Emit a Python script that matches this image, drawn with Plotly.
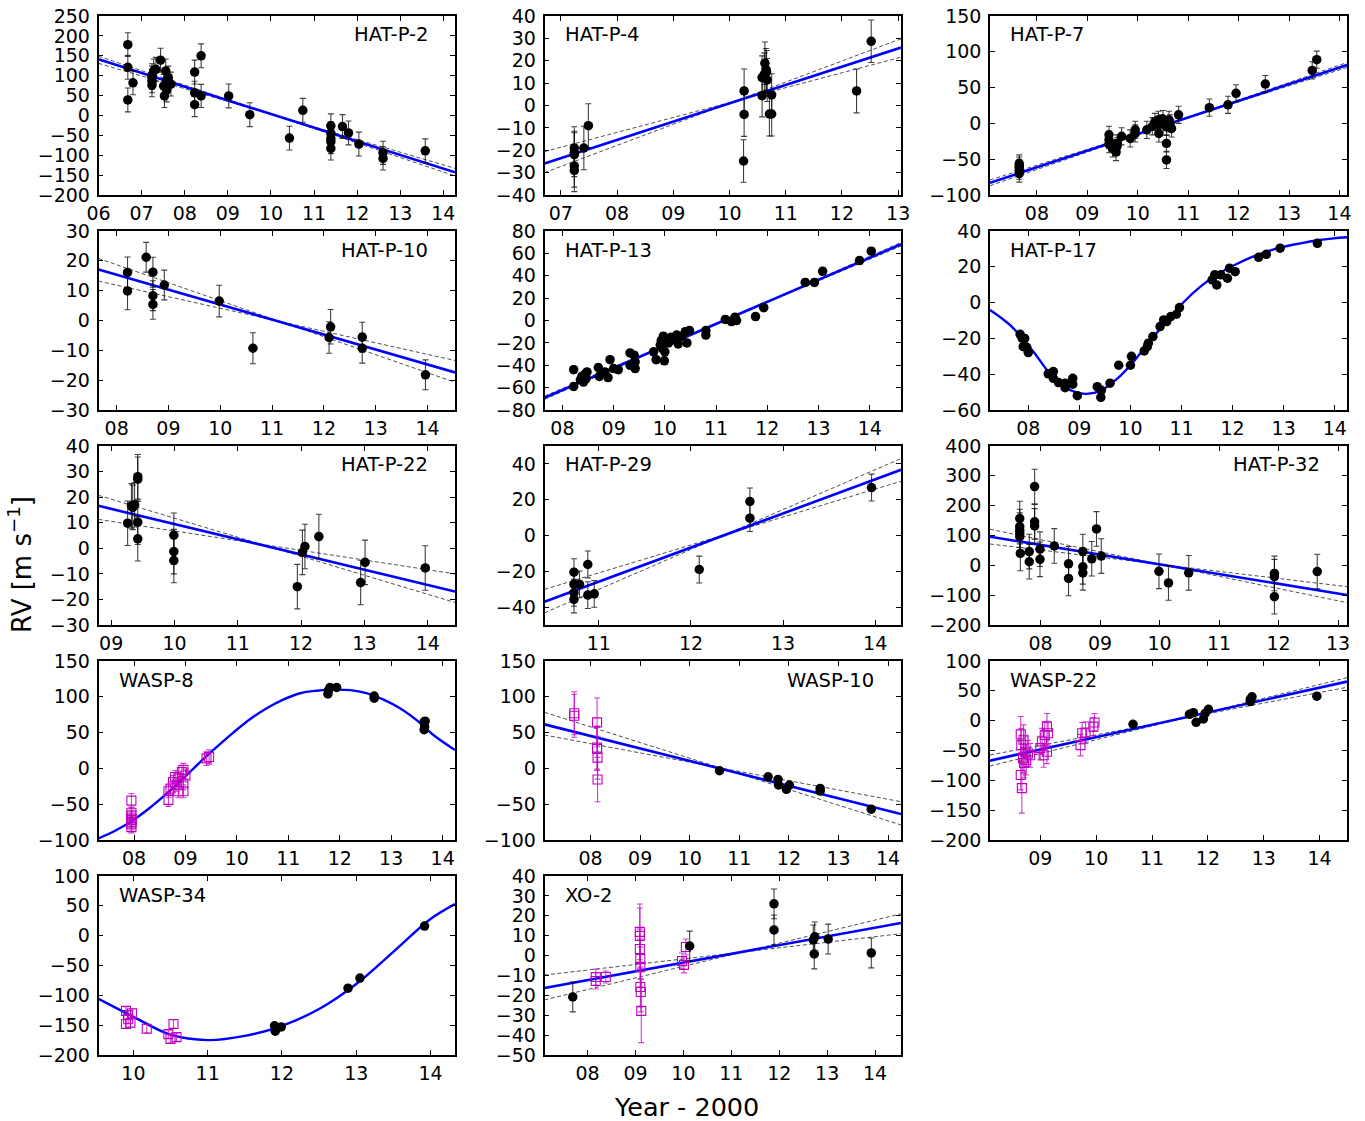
import plotly.graph_objects as go

# ---------------- data (years - 2000, RV in m/s) ----------------
# HAT-P-2
hp2_t = [6.68, 6.68, 6.68, 6.80, 7.24, 7.24, 7.24, 7.24, 7.28, 7.33, 7.44, 7.51, 7.53, 7.56, 7.58, 7.58, 7.62, 7.68,
         8.23, 8.23, 8.23, 8.38, 8.38, 9.02, 9.51, 10.43, 10.74, 11.39, 11.39, 11.39, 11.39, 11.39, 11.66, 11.80,
         12.04, 12.60, 12.60, 13.58]
hp2_rv = [178, 121, 39, 82, 101, 86, 76, 95, 112, 116, 139, 74, 49, 112, 85, 64, 95, 79,
          109, 57, 27, 150, 49, 49, 2, -57, 13, -26, -45, -58, -66, -83, -28, -44,
          -72, -94, -108, -89]
hp2_err = [30, 30, 30, 30, 29, 29, 29, 29, 30, 30, 30, 29, 29, 30, 30, 30, 29, 30,
           30, 29, 30, 30, 29, 30, 30, 30, 30, 30, 29, 29, 30, 29, 30, 30,
           30, 29, 29, 30]
hp2_xr = [6.0, 14.27]
hp2_fit = [141, -143]
hp2_da = [149, -152]
hp2_db = [131, -133]

# HAT-P-4
hp4_t = [7.24, 7.24, 7.24, 7.24, 7.24, 7.41, 7.49, 10.25, 10.26, 10.26, 10.58, 10.58, 10.62, 10.63, 10.65,
         10.66, 10.67, 10.71, 10.75, 10.75, 12.26, 12.52]
hp4_rv = [-19, -21, -22, -27, -29, -19, -9, -24.8, 6.5, -4, 12.5, 4.4, 14, 18.9, 16,
          15, 11.4, -3.8, 4.7, -3.8, 6.5, 28.7]
hp4_err = [9.5, 9.5, 9.8, 9.5, 9.5, 9.7, 9.8, 9.5, 9.8, 9.8, 9.7, 9.5, 9.5, 9.5, 9.5,
           9.6, 9.6, 9.8, 9.5, 9.8, 9.8, 9.5]
hp4_xr = [6.71, 13.05]
hp4_fit = [-25.9, 25.9]
hp4_da = [-20.6, 21.6]
hp4_db = [-30.0, 29.8]

# HAT-P-7
hp7_t = [7.65, 7.65, 7.65, 7.65, 7.65, 9.43, 9.43, 9.43, 9.50, 9.57, 9.59, 9.59, 9.68, 9.85, 9.95, 9.95,
         10.18, 10.29, 10.34, 10.41, 10.42, 10.46, 10.50, 10.57, 10.57, 10.57, 10.62, 10.64, 10.67, 10.81,
         11.42, 11.79, 11.95, 12.53, 13.46, 13.55]
hp7_rv = [-56, -59, -62, -66, -70, -16, -23, -29, -35, -40, -32, -28, -18, -21, -9, -14,
          -9, -4, 2, 5, -14, 0, 6, -5, -28, -51, 5, 0, -7, 12,
          22, 26, 42, 55, 74, 89]
hp7_err = [12, 12, 12, 12, 12, 12, 12, 12, 12, 12, 12, 12, 12, 12, 12, 12,
           12, 12, 12, 12, 12, 12, 12, 12, 12, 12, 12, 12, 12, 12,
           12, 12, 12, 12, 12, 12]
hp7_xr = [7.07, 14.15]
hp7_fit = [-82.9, 81.5]
hp7_da = [-79, 78]
hp7_db = [-87, 85]

# HAT-P-10
hp10_t = [8.21, 8.21, 8.57, 8.70, 8.70, 8.70, 8.92, 9.98, 10.63, 12.10, 12.13, 12.74, 12.74, 13.96]
hp10_rv = [16.1, 9.9, 21.2, 16.2, 8.3, 5.4, 11.9, 6.5, -9.3, -5.7, -2.1, -5.6, -9.3, -18.2]
hp10_err = [5.2, 6.3, 5.0, 5.0, 5.0, 5.0, 5.0, 5.3, 5.2, 5.3, 5.8, 5.0, 5.0, 5.0]
hp10_xr = [7.65, 14.53]
hp10_fit = [17.1, -17.4]
hp10_da = [20.8, -20.7]
hp10_db = [13.2, -13.4]

# HAT-P-13
hp13_t = [8.22, 8.22, 8.35, 8.38, 8.41, 8.44, 8.48, 8.46, 8.70, 8.72, 8.83, 8.89, 8.93, 9.00, 9.09,
          9.32, 9.32, 9.40, 9.42, 9.42, 9.78, 9.83, 9.91, 9.93, 9.95, 9.97, 9.99, 10.00,
          10.07, 10.12, 10.16, 10.23, 10.26, 10.33, 10.40, 10.43, 10.48, 10.80, 10.80,
          11.18, 11.30, 11.37, 11.40, 11.77, 11.93, 12.74, 12.92, 13.08, 13.80, 14.03]
hp13_rv = [-44, -59, -53, -50, -55, -48, -46, -52, -42, -50, -46, -51, -35, -43, -44,
           -29, -40, -31, -43, -37, -28, -35, -22, -18, -25, -14, -36, -28,
           -20, -15, -17, -13, -21, -14, -10, -20, -9, -9, -13,
           1, -1, 3, 0, 3.5, 11.5, 34, 34, 44, 53.6, 62]
hp13_err = [3, 3, 3, 3, 3, 3, 3, 3, 3, 3, 3, 3, 3, 3, 3,
            3, 3, 3, 3, 3, 3, 3, 3, 3, 3, 3, 3, 3,
            3, 3, 3, 3, 3, 3, 3, 3, 3, 3, 3,
            3, 3, 3, 3, 3, 3, 3, 3, 3, 3, 3]
hp13_xr = [7.65, 14.61]
hp13_fit = [-69, 68.1]
hp13_da = [-67.5, 66.5]
hp13_db = [-70.5, 69.7]

# HAT-P-17
hp17_t = [7.84, 7.88, 7.93, 7.90, 7.97, 8.00, 8.39, 8.49, 8.49, 8.59, 8.72, 8.72, 8.87, 8.87, 8.96,
          9.35, 9.42, 9.43, 9.60, 9.77, 10.00, 10.02, 10.27, 10.33, 10.35, 10.44, 10.58, 10.65,
          10.71, 10.79, 10.90, 10.96, 11.60, 11.65, 11.69, 11.77, 11.90, 11.94, 12.05,
          12.51, 12.66, 12.93, 13.66]
hp17_rv = [-17.7, -19.9, -20, -24.6, -25, -27.9, -39.8, -38.5, -42.3, -44.7, -45, -47.5, -42.3, -45.6, -52,
           -47, -53, -49, -45, -35, -35, -30, -27, -24.6, -22.7, -19, -13.4, -9.7,
           -10.6, -7.8, -6.5, -2.8, 12.7, 15.5, 9.9, 15.5, 13.6, 19.2, 17.3,
           25.3, 27, 30.4, 33.1]
hp17_err = [1.5, 1.5, 1.5, 1.5, 1.5, 1.5, 1.5, 1.5, 1.5, 1.5, 1.5, 1.5, 1.5, 1.5, 1.5,
            1.5, 1.5, 1.5, 1.5, 1.5, 1.5, 1.5, 1.5, 1.5, 1.5, 1.5, 1.5, 1.5,
            1.5, 1.5, 1.5, 1.5, 1.5, 1.5, 1.5, 1.5, 1.5, 1.5, 1.5,
            1.5, 1.5, 1.5, 1.5]
hp17_curve_t = [7.25, 7.64, 8.10, 8.42, 8.75, 9.01, 9.14, 9.41, 9.73, 10.06, 10.38, 10.71, 11.04,
                11.37, 11.69, 12.02, 12.35, 12.67, 13.00, 13.33, 13.66, 13.98, 14.24]
hp17_curve_rv = [-4.1, -12.5, -27.4, -39.5, -47.9, -50.6, -51.0, -49.3, -42.8, -33.0, -21.4, -10.6, 0.2,
                 8.9, 15.5, 20.7, 25.1, 28.5, 31.2, 33.1, 34.8, 35.9, 36.5]

# HAT-P-22
hp22_t = [9.26, 9.32, 9.34, 9.37, 9.42, 9.42, 9.42, 9.42, 9.99, 9.99, 9.99, 11.94, 12.02, 12.06, 12.28,
          12.94, 13.01, 13.96]
hp22_rv = [9.8, 16.6, 16, 17, 28, 27, 10.2, 3.7, 5.1, -1.3, -4.8, -15, -1.6, 0.7, 4.6, -13.4, -5.5, -7.7]
hp22_err = [8.7, 8.7, 8.7, 8.7, 8.7, 8.7, 8.7, 8.7, 8.7, 8.7, 8.7, 8.7, 8.7, 8.7, 8.7, 8.7, 8.7, 8.7]
hp22_xr = [8.8, 14.43]
hp22_fit = [16.6, -16.9]
hp22_da = [20.7, -21.2]
hp22_db = [11.3, -10.0]

# HAT-P-29
hp29_t = [10.73, 10.73, 10.73, 10.73, 10.79, 10.88, 10.88, 10.95, 12.09, 12.64, 12.64, 13.96]
hp29_rv = [-20.5, -27.3, -32, -35.7, -27.3, -16.2, -33.3, -32.6, -19, 19, 9.7, 26.8]
hp29_err = [7.5, 7.5, 7.5, 7.5, 7.5, 7.5, 7.5, 7.5, 7.5, 7.5, 7.5, 7.5]
hp29_xr = [10.41, 14.28]
hp29_fit = [-37, 36.7]
hp29_da = [-30.1, 30.3]
hp29_db = [-43.2, 43.0]

# HAT-P-32
hp32_t = [7.65, 7.65, 7.65, 7.65, 7.65, 7.66, 7.81, 7.81, 7.90, 7.90, 7.90, 7.99, 7.99, 8.23, 8.47, 8.47,
          8.71, 8.71, 8.71, 8.86, 8.94, 9.02, 9.99, 10.15, 10.49, 11.93, 11.93, 11.93, 12.65]
hp32_rv = [157, 130, 118, 107, 96, 40, 46, 12, 264, 146, 132, 54, 20, 65, 5, -44,
           46, -5, -25, 22, 122, 31, -20, -59, -25, -27, -38, -105, -21]
hp32_err = [58, 58, 58, 58, 58, 58, 58, 58, 58, 58, 58, 58, 58, 58, 58, 58,
            58, 58, 58, 58, 58, 58, 58, 58, 58, 58, 58, 58, 58]
hp32_xr = [7.15, 13.15]
hp32_fit = [96, -99.4]
hp32_da = [121, -125]
hp32_db = [71.5, -71.5]

# WASP-8
w8m_t = [7.95, 7.95, 7.95, 7.95, 7.95, 7.95, 7.95, 7.95, 8.67, 8.67, 8.71, 8.76, 8.80, 8.83, 8.86, 8.86,
         8.93, 8.96, 8.96, 8.96, 9.00, 9.41, 9.46]
w8m_rv = [-45, -62, -66, -70, -72, -75, -78, -82, -32, -44, -28, -19, -12, -23, -14, -32,
          -5, -2, -21, -32, -10, 14, 16]
w8m_err = [10, 8, 8, 8, 8, 8, 8, 8, 9, 9, 9, 9, 9, 9, 9, 9,
           9, 9, 9, 9, 9, 10, 10]
w8b_t = [11.77, 11.78, 11.81, 11.94, 12.67, 12.67, 13.64, 13.64, 13.65, 13.66]
w8b_rv = [104, 109, 113, 113, 98, 101, 65, 54, 58, 66]
w8b_err = [2, 2, 2, 2, 2, 2, 2, 2, 2, 2]
w8_curve_t = [7.31, 7.66, 7.99, 8.31, 8.64, 8.96, 9.28, 9.61, 9.93, 10.26, 10.58, 10.90, 11.23, 11.55,
              11.88, 12.20, 12.52, 12.85, 13.17, 13.50, 13.82, 14.24]
w8_curve_rv = [-97.8, -86, -72, -55, -35, -14, 8.5, 30, 50, 69, 84, 96, 105, 108.5,
               110, 109.4, 105, 96, 84, 67, 46.6, 25.6]

# WASP-10
w10m_t = [7.67, 7.67, 8.13, 8.13, 8.13, 8.14, 8.14]
w10m_rv = [77, 73.6, 64.3, 29, 27, 15, -15.6]
w10m_err = [30, 30, 34, 30, 30, 30, 31]
w10b_t = [10.60, 11.58, 11.78, 11.79, 11.95, 12.01, 12.63, 12.63, 13.66]
w10b_rv = [-3.3, -11.7, -15.4, -23.2, -29.2, -23.2, -27.9, -31.6, -57]
w10b_err = [2, 2, 2, 2, 2, 2, 2, 2, 2]
w10_xr = [7.07, 14.26]
w10_fit = [61.5, -63.8]
w10_da = [78.3, -79]
w10_db = [46.6, -46.5]

# WASP-22
w22m_t = [8.65, 8.65, 8.67, 8.66, 8.69, 8.70, 8.71, 8.73, 8.75, 8.78, 8.82, 9.00, 9.03, 9.06, 9.08,
          9.12, 9.12, 9.14, 9.72, 9.75, 9.81, 9.95, 9.97]
w22m_rv = [-23, -91, -113, -41, -63, -32, -71, -52, -66, -55, -58, -46, -35, -58, -24,
           -10, -52, -21, -41, -21, -20, -10, -3]
w22m_err = [30, 25, 42, 28, 25, 25, 25, 25, 25, 22, 20, 20, 22, 20, 22,
            22, 20, 20, 18, 18, 18, 15, 15]
w22b_t = [10.66, 11.67, 11.74, 11.79, 11.92, 11.95, 12.01, 12.76, 12.79, 12.76, 13.95]
w22b_rv = [-6, 10.6, 13.4, -2.8, 2.8, 12, 19, 32, 40, 36, 41]
w22b_err = [3, 3, 3, 3, 3, 3, 3, 3, 3, 3, 3]
w22_xr = [8.1, 14.49]
w22_fit = [-67, 65.4]
w22_da = [-57.5, 55.9]
w22_db = [-76, 72]

# WASP-34
w34m_t = [9.90, 9.93, 9.93, 9.96, 9.90, 9.98, 10.18, 10.47, 10.50, 10.54, 10.58]
w34m_rv = [-126, -133, -140, -146, -148, -130, -156, -165, -173, -148, -170]
w34m_err = [7, 7, 7, 7, 7, 7, 7, 7, 7, 7, 7]
w34b_t = [11.90, 11.91, 11.99, 12.89, 13.05, 13.92]
w34b_rv = [-151, -160, -153, -88, -71, 16]
w34b_err = [3, 3, 3, 3, 3, 3]
w34_curve_t = [9.53, 10.0, 10.5, 11.0, 11.5, 12.0, 12.5, 13.0, 13.5, 14.0, 14.33]
w34_curve_rv = [-106, -136, -166, -175, -168, -151, -123, -81, -27, 28, 53]

# XO-2
xo2m_t = [8.17, 8.17, 8.38, 9.09, 9.09, 9.09, 9.10, 9.10, 9.10, 9.11, 9.12, 9.97, 10.01, 10.05]
xo2m_rv = [-12.8, -10.8, -10.8, 11.9, 9.9, 3.3, -1.7, -5.7, -15.8, -18.3, -27.8, -2.7, -4.7, 4.3]
xo2m_err = [4, 4, 3, 14, 14, 10, 10, 10, 10, 10, 16, 4, 4, 4]
xo2b_t = [7.69, 10.13, 11.89, 11.89, 12.71, 12.73, 12.74, 13.02, 13.92]
xo2b_rv = [-20.8, 4.8, 26, 12.9, 7.9, 0.8, 9.4, 8.3, 1.3]
xo2b_err = [7.5, 7.5, 7.5, 7.5, 7.5, 7.5, 7.5, 7.5, 7.5]
xo2_xr = [7.1, 14.54]
xo2_fit = [-16.3, 16.4]
xo2_da = [-9.8, 11.0]
xo2_db = [-22.3, 21.0]

# ---------------- panel configuration ----------------
panels = [
    dict(name="HAT-P-2", r=0, c=0, xr=[6.0, 14.27], yr=[-200, 250], xt=range(6, 15), yt=range(-200, 251, 50),
         side="right", black=(hp2_t, hp2_rv, hp2_err), lin=(hp2_xr, hp2_fit, hp2_da, hp2_db)),
    dict(name="HAT-P-4", r=0, c=1, xr=[6.71, 13.05], yr=[-40, 40], xt=range(7, 14), yt=range(-40, 41, 10),
         side="left", black=(hp4_t, hp4_rv, hp4_err), lin=(hp4_xr, hp4_fit, hp4_da, hp4_db)),
    dict(name="HAT-P-7", r=0, c=2, xr=[7.07, 14.15], yr=[-100, 150], xt=range(8, 15), yt=range(-100, 151, 50),
         side="left", black=(hp7_t, hp7_rv, hp7_err), lin=(hp7_xr, hp7_fit, hp7_da, hp7_db)),
    dict(name="HAT-P-10", r=1, c=0, xr=[7.65, 14.53], yr=[-30, 30], xt=range(8, 15), yt=range(-30, 31, 10),
         side="right", black=(hp10_t, hp10_rv, hp10_err), lin=(hp10_xr, hp10_fit, hp10_da, hp10_db)),
    dict(name="HAT-P-13", r=1, c=1, xr=[7.65, 14.61], yr=[-80, 80], xt=range(8, 15), yt=range(-80, 81, 20),
         side="left", black=(hp13_t, hp13_rv, hp13_err), lin=(hp13_xr, hp13_fit, hp13_da, hp13_db)),
    dict(name="HAT-P-17", r=1, c=2, xr=[7.25, 14.24], yr=[-60, 40], xt=range(8, 15), yt=range(-60, 41, 20),
         side="left", black=(hp17_t, hp17_rv, hp17_err), curve=(hp17_curve_t, hp17_curve_rv)),
    dict(name="HAT-P-22", r=2, c=0, xr=[8.8, 14.43], yr=[-30, 40], xt=range(9, 15), yt=range(-30, 41, 10),
         side="right", black=(hp22_t, hp22_rv, hp22_err), lin=(hp22_xr, hp22_fit, hp22_da, hp22_db)),
    dict(name="HAT-P-29", r=2, c=1, xr=[10.41, 14.28], yr=[-50, 50], xt=range(11, 15), yt=range(-40, 41, 20),
         side="left", black=(hp29_t, hp29_rv, hp29_err), lin=(hp29_xr, hp29_fit, hp29_da, hp29_db)),
    dict(name="HAT-P-32", r=2, c=2, xr=[7.15, 13.15], yr=[-200, 400], xt=range(8, 14), yt=range(-200, 401, 100),
         side="right", black=(hp32_t, hp32_rv, hp32_err), lin=(hp32_xr, hp32_fit, hp32_da, hp32_db)),
    dict(name="WASP-8", r=3, c=0, xr=[7.31, 14.24], yr=[-100, 150], xt=range(8, 15), yt=range(-100, 151, 50),
         side="left", black=(w8b_t, w8b_rv, w8b_err), mag=(w8m_t, w8m_rv, w8m_err), curve=(w8_curve_t, w8_curve_rv)),
    dict(name="WASP-10", r=3, c=1, xr=[7.07, 14.26], yr=[-100, 150], xt=range(8, 15), yt=range(-100, 151, 50),
         side="right", black=(w10b_t, w10b_rv, w10b_err), mag=(w10m_t, w10m_rv, w10m_err),
         lin=(w10_xr, w10_fit, w10_da, w10_db)),
    dict(name="WASP-22", r=3, c=2, xr=[8.1, 14.49], yr=[-200, 100], xt=range(9, 15), yt=range(-200, 101, 50),
         side="left", black=(w22b_t, w22b_rv, w22b_err), mag=(w22m_t, w22m_rv, w22m_err),
         lin=(w22_xr, w22_fit, w22_da, w22_db)),
    dict(name="WASP-34", r=4, c=0, xr=[9.53, 14.33], yr=[-200, 100], xt=range(10, 15), yt=range(-200, 101, 50),
         side="left", black=(w34b_t, w34b_rv, w34b_err), mag=(w34m_t, w34m_rv, w34m_err),
         curve=(w34_curve_t, w34_curve_rv)),
    dict(name="XO-2", r=4, c=1, xr=[7.1, 14.54], yr=[-50, 40], xt=range(8, 15), yt=range(-50, 41, 10),
         side="left", black=(xo2b_t, xo2b_rv, xo2b_err), mag=(xo2m_t, xo2m_rv, xo2m_err),
         lin=(xo2_xr, xo2_fit, xo2_da, xo2_db)),
]

W, H = 1365, 1121
col_px = [(98.5, 455.0), (544.5, 901.0), (990.0, 1347.0)]
row_px = [(16, 195), (231, 410), (446, 625), (661, 840), (876, 1055)]
FONT = "DejaVu Sans"
MAG = "rgb(191,0,191)"
TICKSIZE = 19

fig = go.Figure()
layout = {}
annotations = []

for i, p in enumerate(panels):
    n = "" if i == 0 else str(i + 1)
    xa, ya = "x" + n, "y" + n
    L, R = col_px[p["c"]]
    T, B = row_px[p["r"]]
    common = dict(showline=True, linecolor="black", linewidth=1.5, mirror="ticks", ticks="inside",
                  ticklen=5, tickwidth=1, tickcolor="black", showgrid=False, zeroline=False,
                  automargin=False,
                  tickfont=dict(family=FONT, size=TICKSIZE, color="black"))
    layout["xaxis" + n] = dict(domain=[L / W, R / W], range=p["xr"], anchor=ya,
                               tickmode="array", tickvals=list(p["xt"]),
                               ticktext=["%02d" % v for v in p["xt"]], **common)
    layout["yaxis" + n] = dict(domain=[1 - B / H, 1 - T / H], range=p["yr"], anchor=xa,
                               tickmode="array", tickvals=list(p["yt"]),
                               ticktext=[("\u2212%d" % -v) if v < 0 else "%d" % v for v in p["yt"]],
                               ticklabelstandoff=3, **common)

    if "lin" in p:
        xr, fit, da, db = p["lin"]
        for dd in (da, db):
            fig.add_trace(go.Scatter(x=xr, y=dd, mode="lines", xaxis=xa, yaxis=ya, showlegend=False,
                                     hoverinfo="skip",
                                     line=dict(color="rgba(40,40,40,0.9)", width=0.9, dash="4px,2.5px")))
        fig.add_trace(go.Scatter(x=xr, y=fit, mode="lines", xaxis=xa, yaxis=ya, showlegend=False,
                                 line=dict(color="#0000ff", width=2.6)))
    if "curve" in p:
        ct, cr = p["curve"]
        fig.add_trace(go.Scatter(x=ct, y=cr, mode="lines", xaxis=xa, yaxis=ya, showlegend=False,
                                 line=dict(color="#0000ff", width=2.4, shape="spline", smoothing=1.0)))
    if "mag" in p:
        mt, mr, me = p["mag"]
        fig.add_trace(go.Scatter(x=mt, y=mr, mode="markers", xaxis=xa, yaxis=ya, showlegend=False,
                                 marker=dict(symbol="square-open", size=9, color=MAG, line=dict(width=1.1, color=MAG)),
                                 error_y=dict(type="data", array=me, visible=True, color="rgba(191,0,191,0.75)",
                                              thickness=1.1, width=3)))
    bt, br, be = p["black"]
    fig.add_trace(go.Scatter(x=bt, y=br, mode="markers", xaxis=xa, yaxis=ya, showlegend=False,
                             marker=dict(symbol="circle", size=9.5, color="black"),
                             error_y=dict(type="data", array=be, visible=True, color="rgba(0,0,0,0.75)",
                                          thickness=1.1, width=3)))

    if p["side"] == "right":
        annotations.append(dict(text=p["name"], xref=xa + " domain", yref=ya + " domain", x=1, y=1,
                                xanchor="right", yanchor="middle", xshift=-25, yshift=-19, showarrow=False,
                                font=dict(family=FONT, size=19.5, color="black")))
    else:
        annotations.append(dict(text=p["name"], xref=xa + " domain", yref=ya + " domain", x=0, y=1,
                                xanchor="left", yanchor="middle", xshift=18, yshift=-19, showarrow=False,
                                font=dict(family=FONT, size=19.5, color="black")))

annotations.append(dict(text="Year - 2000", xref="paper", yref="paper", x=686 / W, y=1 - 1107 / H,
                        xanchor="center", yanchor="middle", showarrow=False,
                        font=dict(family=FONT, size=25.5, color="black")))
annotations.append(dict(text="RV [m s<sup>\u22121</sup>]", xref="paper", yref="paper", x=20 / W, y=1 - 565 / H,
                        xanchor="center", yanchor="middle", textangle=-90, showarrow=False,
                        font=dict(family=FONT, size=26, color="black")))

fig.update_layout(width=W, height=H, autosize=False, margin=dict(l=0, r=0, t=0, b=0, pad=0),
                  paper_bgcolor="white", plot_bgcolor="white", annotations=annotations,
                  font=dict(family=FONT, color="black"), **layout)

fig.write_html("out.html")
